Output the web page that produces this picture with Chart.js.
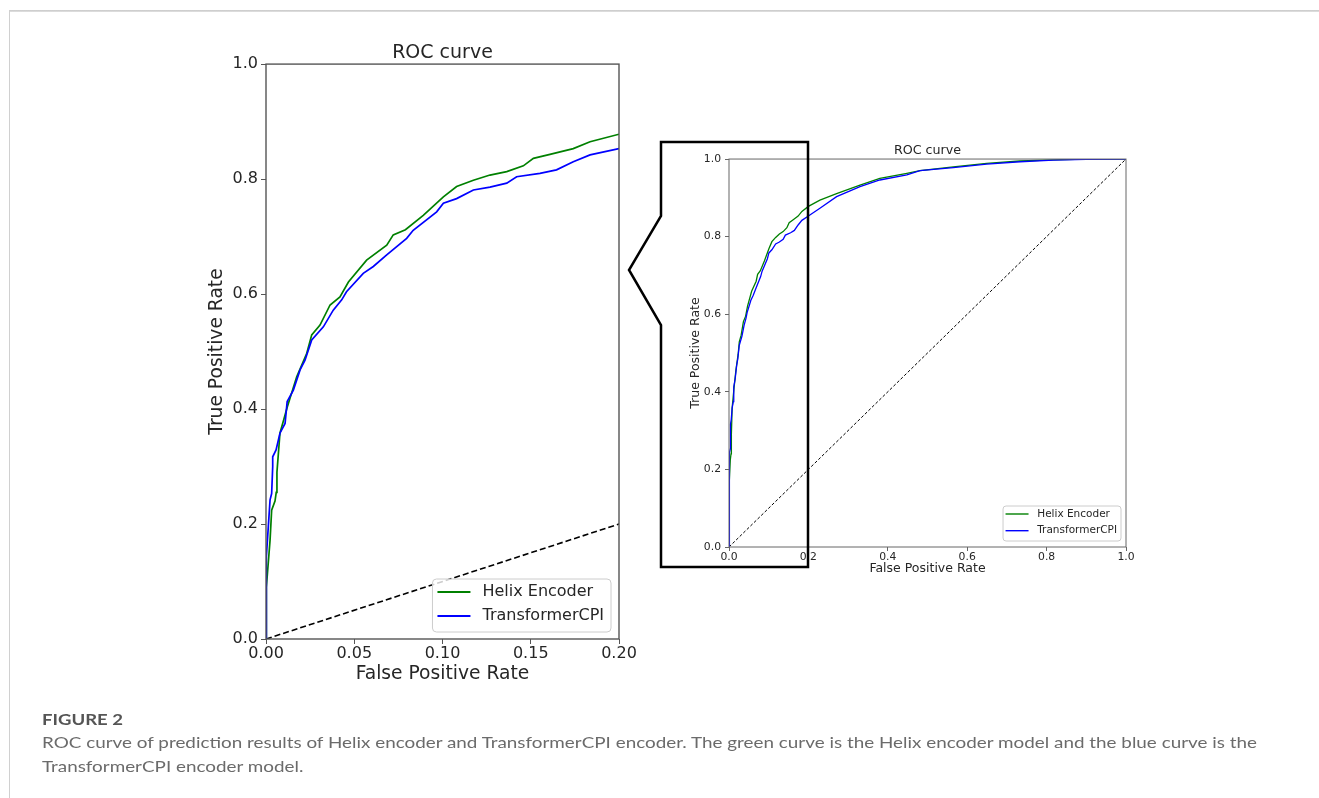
<!DOCTYPE html>
<html>
<head>
<meta charset="utf-8">
<script src="https://cdn.jsdelivr.net/npm/chart.js@4.4.1/dist/chart.umd.min.js"></script>
<style>
  html, body { margin: 0; padding: 0; background: #fff; }
  body { width: 1319px; height: 798px; position: relative; overflow: hidden; }
  #frameTop { position: absolute; left: 9px; top: 10px; width: 1310px; height: 2px; background: linear-gradient(#c8c8c8, #e2e2e2); }
  #frameLeft { position: absolute; left: 9px; top: 10px; width: 1px; height: 788px; background: #d0d0d0; }
  #zoomChart { position: absolute; left: 150px; top: 20px; }
  #fullChart { position: absolute; left: 660px; top: 120px; }
  #callout { position: absolute; left: 0; top: 0; pointer-events: none; }
  .cap { position: absolute; left: 42px; white-space: nowrap; transform-origin: 0 50%; font-family: Lato, "Noto Sans", sans-serif; }
  #figNo { top: 709px; font-size: 16px; font-weight: bold; color: #555; }
  .capLine { font-size: 16px; color: #6b6b6b; }
  #cap1 { top: 732px; }
  #cap2 { top: 756px; }
</style>
</head>
<body>
<div id="frameTop"></div>
<div id="frameLeft"></div>

<canvas id="zoomChart" width="490" height="680"></canvas>
<canvas id="fullChart" width="490" height="470"></canvas>

<svg id="callout" width="1319" height="798">
  <polygon points="661,142 808,142 808,567 661,567 661,325 629,270 661,216"
           fill="none" stroke="#000" stroke-width="2.5" stroke-linejoin="miter"/>
</svg>

<div id="figNo" class="cap">FIGURE 2</div>
<div id="cap1" class="cap capLine">ROC curve of prediction results of Helix encoder and TransformerCPI encoder. The green curve is the Helix encoder model and the blue curve is the</div>
<div id="cap2" class="cap capLine">TransformerCPI encoder model.</div>

<script>
// ROC points (false positive rate / true positive rate)
const helixFpr = [0, 0, 0.0004, 0.0023, 0.0032, 0.0051, 0.0058, 0.0062, 0.0079, 0.0121, 0.0174, 0.0231, 0.0259, 0.0306, 0.0363, 0.0419, 0.0467, 0.0570, 0.0684, 0.0721, 0.0790, 0.0891, 0.1005, 0.1080, 0.1175, 0.1269, 0.1364, 0.1458, 0.1515, 0.1609, 0.1741, 0.1836, 0.2000, 0.229, 0.271, 0.330, 0.380, 0.448, 0.481, 0.565, 0.649, 0.733, 0.817, 0.900, 1.0];
const helixTpr = [0, 0.05, 0.09, 0.172, 0.224, 0.240, 0.255, 0.290, 0.358, 0.404, 0.456, 0.497, 0.529, 0.546, 0.581, 0.595, 0.621, 0.659, 0.685, 0.703, 0.712, 0.737, 0.769, 0.787, 0.798, 0.807, 0.813, 0.823, 0.836, 0.843, 0.853, 0.865, 0.878, 0.894, 0.911, 0.933, 0.950, 0.963, 0.970, 0.980, 0.989, 0.995, 0.998, 1.0, 1.0];

const transFpr = [0, 0, 0.0004, 0.0013, 0.0023, 0.0032, 0.0038, 0.0038, 0.0057, 0.0079, 0.0108, 0.0120, 0.0155, 0.0193, 0.0221, 0.0259, 0.0325, 0.0381, 0.0429, 0.0456, 0.0551, 0.0608, 0.0684, 0.0797, 0.0834, 0.0967, 0.1005, 0.1080, 0.1175, 0.1269, 0.1364, 0.1420, 0.1552, 0.1646, 0.1741, 0.1836, 0.2000, 0.229, 0.271, 0.330, 0.380, 0.448, 0.481, 0.565, 0.649, 0.733, 0.817, 0.900, 1.0];
const transTpr = [0, 0.039, 0.143, 0.195, 0.242, 0.253, 0.300, 0.317, 0.329, 0.358, 0.375, 0.413, 0.433, 0.468, 0.485, 0.520, 0.543, 0.572, 0.590, 0.604, 0.636, 0.648, 0.668, 0.697, 0.711, 0.743, 0.758, 0.766, 0.781, 0.786, 0.793, 0.804, 0.810, 0.816, 0.830, 0.842, 0.853, 0.873, 0.903, 0.929, 0.946, 0.959, 0.970, 0.978, 0.987, 0.993, 0.997, 0.999, 1.0];

const chanceFpr = [0, 1];
const chanceTpr = [0, 1];

const seriesNames = ["Helix Encoder", "TransformerCPI"];
const seriesColors = ["#008000", "#0000ff"];

const zoomXTicks = [0, 0.05, 0.10, 0.15, 0.20];
const zoomXLabels = ["0.00", "0.05", "0.10", "0.15", "0.20"];
const fullXTicks = [0, 0.2, 0.4, 0.6, 0.8, 1.0];
const fullXLabels = ["0.0", "0.2", "0.4", "0.6", "0.8", "1.0"];
const yTicks = [0, 0.2, 0.4, 0.6, 0.8, 1.0];
const yLabels = ["0.0", "0.2", "0.4", "0.6", "0.8", "1.0"];

const F = '"DejaVu Sans", sans-serif';

function toPoints(xs, ys) {
  return xs.map((x, i) => ({ x: x, y: ys[i] }));
}

// box around the whole plot area, like matplotlib spines
const framePlugin = {
  id: "frame",
  afterDatasetsDraw(chart, args, o) {
    const { ctx, chartArea: a } = chart;
    ctx.save();
    ctx.strokeStyle = o.color;
    ctx.lineWidth = o.width;
    ctx.strokeRect(a.left, a.top, a.right - a.left, a.bottom - a.top);
    ctx.restore();
  }
};

// legend drawn inside the plot, lower right
const boxLegend = {
  id: "boxLegend",
  afterDraw(chart, args, o) {
    const { ctx, chartArea: a } = chart;
    const items = chart.data.datasets.filter(d => !d.hideInLegend);
    ctx.save();
    ctx.font = o.fontSize + "px " + F;
    const textW = Math.max(...items.map(d => ctx.measureText(d.label).width));
    const w = o.padL + o.lineLen + o.gap + textW + o.padR;
    const h = o.padT + o.rowGap * (items.length - 1) + o.padB;
    const x = a.right - o.insetR - w;
    const y = a.bottom - o.insetB - h;
    ctx.fillStyle = "rgba(255,255,255,0.8)";
    ctx.strokeStyle = "#cccccc";
    ctx.lineWidth = 1;
    ctx.beginPath();
    ctx.roundRect(x, y, w, h, o.radius);
    ctx.fill();
    ctx.stroke();
    items.forEach((d, i) => {
      const cy = y + o.padT + i * o.rowGap;
      ctx.strokeStyle = d.borderColor;
      ctx.lineWidth = o.lineWidth;
      ctx.beginPath();
      ctx.moveTo(x + o.padL, cy);
      ctx.lineTo(x + o.padL + o.lineLen, cy);
      ctx.stroke();
      ctx.fillStyle = "#262626";
      ctx.textBaseline = "middle";
      ctx.fillText(d.label, x + o.padL + o.lineLen + o.gap, cy);
    });
    ctx.restore();
  }
};

function rocChart(id, s) {
  return new Chart(document.getElementById(id), {
    type: "scatter",
    data: {
      datasets: [
        { label: seriesNames[0], data: toPoints(helixFpr, helixTpr), borderColor: seriesColors[0], borderWidth: s.lw, showLine: true, pointRadius: 0, order: 1 },
        { label: seriesNames[1], data: toPoints(transFpr, transTpr), borderColor: seriesColors[1], borderWidth: s.lw, showLine: true, pointRadius: 0, order: 0 },
        { label: "chance", data: toPoints(chanceFpr, chanceTpr), borderColor: "#000", borderWidth: s.dashW, borderDash: s.dash, showLine: true, pointRadius: 0, order: 2, hideInLegend: true }
      ]
    },
    options: {
      responsive: false,
      animation: false,
      events: [],
      layout: { padding: { left: 0, right: s.padR, top: 0, bottom: 0 } },
      plugins: {
        legend: { display: false },
        tooltip: { enabled: false },
        title: {
          display: true, fullSize: false, text: "ROC curve", color: "#262626",
          font: { family: F, size: s.titleSize, weight: "normal" },
          padding: s.titlePad
        },
        frame: { color: s.frameColor, width: s.frameW },
        boxLegend: s.legend
      },
      scales: {
        x: {
          type: "linear", min: 0, max: s.xMax,
          afterBuildTicks: sc => { sc.ticks = s.xTicks.map(v => ({ value: v })); },
          afterFit: sc => { sc.height = s.xAxisH; },
          border: { display: false },
          grid: { drawOnChartArea: false, drawTicks: true, tickLength: s.tickLen, color: s.frameColor, tickWidth: 1 },
          ticks: {
            color: "#262626", font: { family: F, size: s.tickSize }, padding: s.xTickPad,
            maxRotation: 0, autoSkip: false,
            callback: (v, i) => s.xLabels[i]
          },
          title: {
            display: true, text: "False Positive Rate", color: "#262626",
            font: { family: F, size: s.labelSize }, padding: { top: 0, bottom: s.xTitlePad }
          }
        },
        y: {
          type: "linear", min: 0, max: 1,
          afterBuildTicks: sc => { sc.ticks = yTicks.map(v => ({ value: v })); },
          afterFit: sc => { sc.width = s.yAxisW; },
          border: { display: false },
          grid: { drawOnChartArea: false, drawTicks: true, tickLength: s.tickLen, color: s.frameColor, tickWidth: 1 },
          ticks: {
            color: "#262626", font: { family: F, size: s.tickSize }, padding: s.yTickPad,
            autoSkip: false,
            callback: (v, i) => yLabels[i]
          },
          title: {
            display: true, text: "True Positive Rate", color: "#262626",
            font: { family: F, size: s.labelSize }, padding: { top: s.yTitlePad, bottom: 0 }
          }
        }
      }
    },
    plugins: [framePlugin, boxLegend]
  });
}

// zoomed view, FPR 0 - 0.2
rocChart("zoomChart", {
  xMax: 0.2, xTicks: zoomXTicks, xLabels: zoomXLabels,
  lw: 1.7, dashW: 1.6, dash: [6, 3],
  padR: 21, yAxisW: 116, xAxisH: 61,
  titleSize: 19, titlePad: { top: 21.3, bottom: 0 },
  tickSize: 16, labelSize: 18.7, tickLen: 5, xTickPad: 0, yTickPad: 3,
  xTitlePad: 14.8, yTitlePad: 55.5,
  frameColor: "#555", frameW: 1.4,
  legend: { fontSize: 16, padL: 5, lineLen: 33, gap: 12, padR: 7, padT: 13, rowGap: 24, padB: 16, insetR: 8, insetB: 7, radius: 4, lineWidth: 2 }
});

// full view
rocChart("fullChart", {
  xMax: 1, xTicks: fullXTicks, xLabels: fullXLabels,
  lw: 1.3, dashW: 1, dash: [3, 2],
  padR: 24, yAxisW: 69, xAxisH: 43,
  titleSize: 12.7, titlePad: { top: 23.2, bottom: 0.6 },
  tickSize: 10.8, labelSize: 12.5, tickLen: 4, xTickPad: 0, yTickPad: 4,
  xTitlePad: 13.5, yTitlePad: 28.5,
  frameColor: "#666", frameW: 1,
  legend: { fontSize: 10.5, padL: 2.5, lineLen: 23, gap: 8.7, padR: 4, padT: 8, rowGap: 16.7, padB: 10.3, insetR: 5, insetB: 6, radius: 3, lineWidth: 1.4 }
});

// caption widths taken from the figure
function fitWidth(id, target) {
  const el = document.getElementById(id);
  const w = el.getBoundingClientRect().width;
  el.style.transform = "scaleX(" + (target / w) + ")";
  return target / w;
}
const k = fitWidth("cap1", 1215);
document.getElementById("cap2").style.transform = "scaleX(" + k + ")";
fitWidth("figNo", 81);
</script>
</body>
</html>
